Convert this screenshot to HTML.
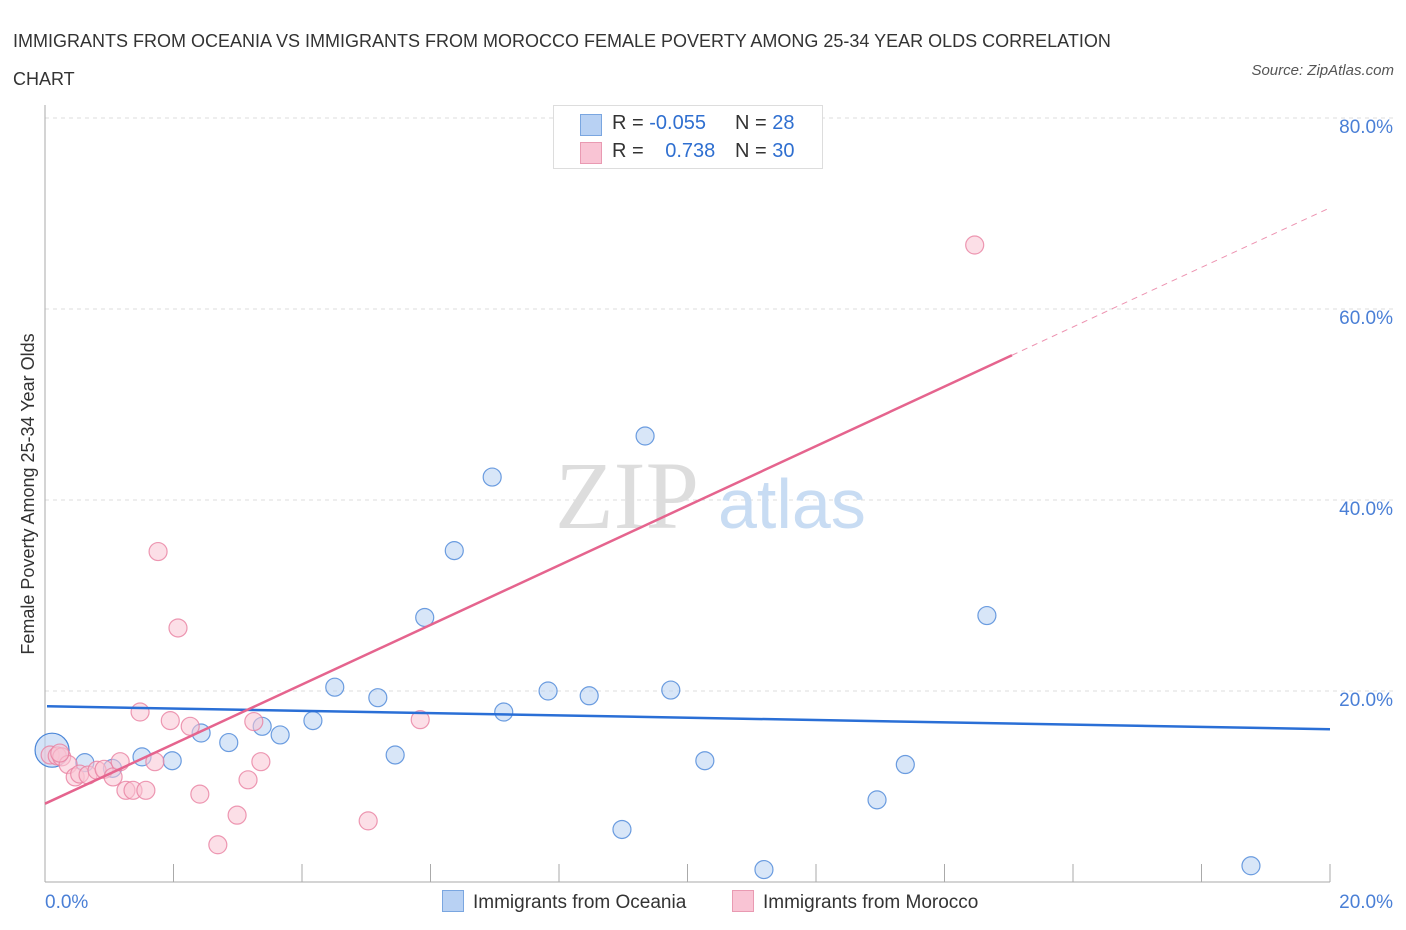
<!DOCTYPE html>
<html><head><meta charset="utf-8">
<style>
body{margin:0;background:#fff;font-family:"Liberation Sans",sans-serif;}
#wrap{position:relative;width:1406px;height:930px;overflow:hidden;}
.t{position:absolute;white-space:nowrap;}
</style></head>
<body>
<div id="wrap">
<div class="t" style="left:13px;top:22px;font-size:18px;color:#333;line-height:38px;">IMMIGRANTS FROM OCEANIA VS IMMIGRANTS FROM MOROCCO FEMALE POVERTY AMONG 25-34 YEAR OLDS CORRELATION<br>CHART</div>
<div class="t" style="right:12px;top:62px;font-size:15px;color:#555;font-style:italic;">Source: ZipAtlas.com</div>
<svg id="svg" width="1406" height="930" style="position:absolute;left:0;top:0"></svg>
</div>
<script>
const oceaniaX=[0.11,0.62,1.05,1.51,1.98,2.43,2.86,3.38,3.66,4.17,4.51,5.18,5.45,5.91,6.37,6.96,7.14,7.83,8.47,8.98,9.34,9.74,10.27,11.19,12.95,13.39,14.66,18.77];
const oceaniaY=[13.8,12.5,11.9,13.1,12.7,15.6,14.6,16.3,15.4,16.9,20.4,19.3,13.3,27.7,34.7,42.4,17.8,20.0,19.5,5.5,46.7,20.1,12.7,1.3,8.6,12.3,27.9,1.7];
const moroccoX=[0.08,0.19,0.26,0.36,0.47,0.54,0.67,0.81,0.92,1.06,1.17,1.26,1.37,1.48,1.57,1.71,1.76,1.95,2.07,2.26,2.41,2.69,2.99,3.16,3.25,3.36,5.03,5.84,14.47,0.23];
const moroccoY=[13.3,13.2,13.1,12.3,11.0,11.3,11.2,11.7,11.8,11.0,12.6,9.6,9.6,17.8,9.6,12.6,34.6,16.9,26.6,16.3,9.2,3.9,7.0,10.7,16.8,12.6,6.4,17.0,66.7,13.5];
const trendOceania=[18.4,-0.12];   // intercept, slope
const trendMorocco=[8.2,3.12];
const yTicks=[20,40,60,80];
const xTickVals=[0,20];

const X0=45,X1=1330,Y0=882,PER=9.55;
const sx=v=>X0+(X1-X0)*v/20, sy=v=>Y0-v*PER;
const svg=document.getElementById('svg');
const NS='http://www.w3.org/2000/svg';
function mk(t,a,p){const e=document.createElementNS(NS,t);for(const k in a)e.setAttribute(k,a[k]);(p||svg).appendChild(e);return e;}

// gridlines & y labels
yTicks.forEach(v=>{
  const g=mk('line',{x1:X0,x2:1395,y1:sy(v),y2:sy(v),stroke:'#ddd','stroke-dasharray':'4,4'});
  
  
  const t=mk('text',{x:1393,y:sy(v)-178*0+ (v===80?21:22),'text-anchor':'end','font-size':19,fill:'#4a7fd6','font-family':'Liberation Sans'});
  t.setAttribute('y', sy(v)+ (v===80?22:22) - 7);
  t.textContent=v.toFixed(1)+'%';
  
  
});
// axes
const ax=mk('line',{x1:X0,x2:X0,y1:105,y2:Y0,stroke:'#aaa'});


const bx=mk('line',{x1:X0,x2:X1,y1:Y0,y2:Y0,stroke:'#aaa'});


for(let i=1;i<=10;i++){
  const tk=mk('line',{x1:sx(i*2),x2:sx(i*2),y1:Y0-18,y2:Y0,stroke:'#aaa'});
  
  
}
xTickVals.forEach(v=>{
  const t=mk('text',{x:v===0?45:1393,y:908,'text-anchor':v===0?'start':'end','font-size':19,fill:'#4a7fd6','font-family':'Liberation Sans'});
  t.textContent=v.toFixed(1)+'%';
  
  
});
// y title
const yt=mk('text',{x:0,y:0,transform:'translate(34,494) rotate(-90)','text-anchor':'middle','font-size':18,fill:'#333','font-family':'Liberation Sans'});
yt.textContent='Female Poverty Among 25-34 Year Olds';


// watermark
const wm=mk('text',{x:555,y:528,'font-size':96,fill:'#ddd','font-family':'Liberation Serif'});
wm.textContent='ZIP';


const wm2=mk('text',{x:718,y:528,'font-size':70,fill:'#c8dcf3','font-family':'Liberation Sans'});
wm2.textContent='atlas';



// points
function pts(xs,ys,fill,stroke,name){
  xs.forEach((x,i)=>{
    const c=mk('circle',{cx:sx(x),cy:sy(ys[i]),r:9,fill:fill,'fill-opacity':0.55,stroke:stroke,'stroke-width':1.2,'stroke-opacity':0.8});
    
    
  });
}
// big bubble
const bb=mk('circle',{cx:sx(oceaniaX[0]),cy:sy(oceaniaY[0]),r:17,fill:'#b8d1f3','fill-opacity':0.6,stroke:'#4a86d8','stroke-width':1.2});


pts(oceaniaX.slice(1),oceaniaY.slice(1),'#b8d1f3','#4a86d8','oceania-point');
pts(moroccoX,moroccoY,'#f9c4d4','#e97fa0','morocco-point');

// trends
const tb=mk('line',{x1:sx(0)+2,y1:sy(trendOceania[0]),x2:sx(20),y2:sy(trendOceania[0]+trendOceania[1]*20),stroke:'#2a6fd6','stroke-width':2.5});


const xs=15.05;
const tp=mk('line',{x1:sx(0),y1:sy(trendMorocco[0]),x2:sx(xs),y2:sy(trendMorocco[0]+trendMorocco[1]*xs),stroke:'#e5648e','stroke-width':2.5});


const tpd=mk('line',{x1:sx(xs),y1:sy(trendMorocco[0]+trendMorocco[1]*xs),x2:sx(20),y2:sy(trendMorocco[0]+trendMorocco[1]*20),stroke:'#e5648e','stroke-width':1,'stroke-dasharray':'6,5','stroke-opacity':0.7});


</script>
<div class="t" style="left:553px;top:105px;width:268px;height:62px;border:1px solid #ddd;background:#fff;font-size:20px;color:#333;">
  <div style="position:absolute;left:26px;top:8px;width:20px;height:20px;background:#b8d1f3;border:1px solid #7aa6e0"></div>
  <div style="position:absolute;left:58px;top:6px">R = <span style="color:#2f6fd0">-0.055</span></div>
  <div style="position:absolute;left:181px;top:6px">N = <span style="color:#2f6fd0">28</span></div>
  <div style="position:absolute;left:26px;top:36px;width:20px;height:20px;background:#f9c4d4;border:1px solid #e99ab2"></div>
  <div style="position:absolute;left:58px;top:34px">R = <span style="color:#2f6fd0;margin-left:16px">0.738</span></div>
  <div style="position:absolute;left:181px;top:34px">N = <span style="color:#2f6fd0">30</span></div>
</div>
<div class="t" style="left:442px;top:890px;font-size:19px;color:#333">
  <span style="display:inline-block;width:20px;height:20px;background:#b8d1f3;border:1px solid #7aa6e0;vertical-align:-4px;margin-right:9px"></span>Immigrants from Oceania</div>
<div class="t" style="left:732px;top:890px;font-size:19px;color:#333">
  <span style="display:inline-block;width:20px;height:20px;background:#f9c4d4;border:1px solid #e99ab2;vertical-align:-4px;margin-right:9px"></span>Immigrants from Morocco</div>
</body></html>
